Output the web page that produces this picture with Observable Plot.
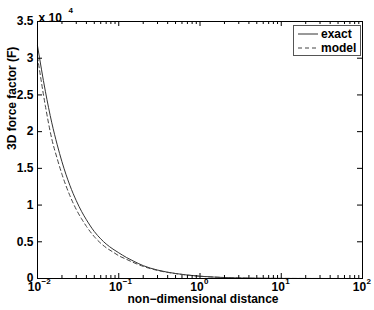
<!DOCTYPE html>
<html>
<head>
<meta charset="utf-8">
<script src="https://cdn.jsdelivr.net/npm/d3@7"></script>
<script src="https://cdn.jsdelivr.net/npm/@observablehq/plot@0.6"></script>
<style>
  html, body { margin: 0; padding: 0; background: #fff; }
  #wrap { position: relative; width: 374px; height: 310px; font-family: "Liberation Sans", Arial, sans-serif; font-weight: bold; }
  #legend { position: absolute; left: 293px; top: 25px; width: 66px; height: 29px; border: 1px solid #555; background: #fff; box-sizing: content-box; }
</style>
</head>
<body>
<div id="wrap"></div>
<script>
// distances (non-dimensional)
const distance = [0.01, 0.0125, 0.015, 0.0175, 0.02, 0.025, 0.03, 0.035, 0.04, 0.05, 0.06, 0.07, 0.085, 0.1, 0.125, 0.15, 0.2, 0.3, 0.5, 0.7, 1, 1.5, 2, 3, 5, 10, 20, 50, 100];
// exact 3D force factor
const exact = [31700, 25500, 21200, 18200, 15900, 12700, 10600, 9100, 8000, 6400, 5400, 4700, 4000, 3500, 2850, 2400, 1750, 1150, 680, 470, 310, 190, 130, 75, 35, 12, 4, 1, 0];
// model 3D force factor
const model = [30200, 23500, 19000, 16300, 14200, 11300, 9400, 8100, 7100, 5700, 4800, 4200, 3600, 3100, 2600, 2200, 1650, 1100, 670, 465, 308, 190, 130, 75, 35, 12, 4, 1, 0];

const yTicks = [0, 5000, 10000, 15000, 20000, 25000, 30000, 35000];
const yTickLabels = ["0", "0.5", "1", "1.5", "2", "2.5", "3", "3.5"];
const xTicks = [0.01, 0.1, 1, 10, 100];
const xTickExponents = ["\u22122", "\u22121", "0", "1", "2"];
const xMinor = [];
for (const d of [0.01, 0.1, 1, 10]) for (let k = 2; k <= 9; k++) xMinor.push(+(d * k).toPrecision(3));

const exactData = distance.map((x, i) => ({x, y: exact[i]}));
const modelData = distance.map((x, i) => ({x, y: model[i]}));

const W = 374, H = 310, mL = 37, mR = 12, mT = 21, mB = 32;
const fw = W - mL - mR, fh = H - mT - mB;
const major = 5, minor = 3;

const plot = Plot.plot({
  width: W, height: H,
  marginLeft: mL, marginRight: mR, marginTop: mT, marginBottom: mB,
  x: {type: "log", domain: [0.01, 100], axis: null},
  y: {domain: [0, 35000], axis: null},
  style: {fontFamily: "Liberation Sans, Arial, sans-serif", fontSize: "12px", fontWeight: "bold", background: "#fff"},
  marks: [
    Plot.line(exactData, {x: "x", y: "y", stroke: "#333", strokeWidth: 1, curve: "monotone-x"}),
    Plot.line(modelData, {x: "x", y: "y", stroke: "#444", strokeWidth: 1, strokeDasharray: "4,3", curve: "monotone-x"}),
    // x major ticks bottom/top
    Plot.ruleX(xTicks, {stroke: "#000", insetTop: fh - major}),
    Plot.ruleX(xTicks, {stroke: "#000", insetBottom: fh - major}),
    // x minor ticks
    Plot.ruleX(xMinor, {stroke: "#000", insetTop: fh - minor}),
    Plot.ruleX(xMinor, {stroke: "#000", insetBottom: fh - minor}),
    // y ticks left/right
    Plot.ruleY(yTicks, {stroke: "#000", insetRight: fw - major}),
    Plot.ruleY(yTicks, {stroke: "#000", insetLeft: fw - major}),
    Plot.frame({stroke: "#000", strokeWidth: 1}),
    // y tick labels
    Plot.text(yTicks, {y: d => d, text: (d, i) => yTickLabels[i], frameAnchor: "left", textAnchor: "end", dx: -4, fontWeight: "bold", fontSize: 12, fill: "#000"}),
    // x tick labels
    Plot.text(xTicks, {x: d => d, text: () => "10", frameAnchor: "bottom", dy: 12, dx: -3, fontWeight: "bold", fontSize: 12, fill: "#000"}),
    Plot.text(xTicks, {x: d => d, text: (d, i) => xTickExponents[i], frameAnchor: "bottom", textAnchor: "start", dy: 5, dx: 4, fontWeight: "bold", fontSize: 8, fill: "#000"}),
    // exponent multiplier
    Plot.text(["x 10"], {text: d => d, frameAnchor: "top-left", textAnchor: "start", dy: -8, dx: 1, fontWeight: "bold", fontSize: 12, fill: "#000"}),
    Plot.text(["4"], {text: d => d, frameAnchor: "top-left", textAnchor: "start", dy: -14, dx: 31, fontWeight: "bold", fontSize: 8, fill: "#000"}),
    // axis labels
    Plot.text(["non\u2212dimensional distance"], {text: d => d, frameAnchor: "bottom", dy: 24, dx: 3, fontWeight: "bold", fontSize: 12, fill: "#000"}),
    Plot.text(["3D force factor (F)"], {text: d => d, frameAnchor: "left", dx: -25, rotate: -90, fontWeight: "bold", fontSize: 12, fill: "#000"})
  ]
});

const wrap = document.getElementById("wrap");
wrap.appendChild(plot);

const legend = document.createElement("div");
legend.id = "legend";
legend.innerHTML = `
<svg width="66" height="29" style="position:absolute;left:0;top:0;font-family:'Liberation Sans',Arial,sans-serif;font-weight:bold;font-size:12px">
  <line x1="4" x2="24" y1="8" y2="8" stroke="#333" stroke-width="1"/>
  <text x="27" y="12" fill="#000">exact</text>
  <line x1="4" x2="24" y1="22" y2="22" stroke="#444" stroke-width="1" stroke-dasharray="4,3"/>
  <text x="27" y="26" fill="#000">model</text>
</svg>`;
wrap.appendChild(legend);
</script>
</body>
</html>
